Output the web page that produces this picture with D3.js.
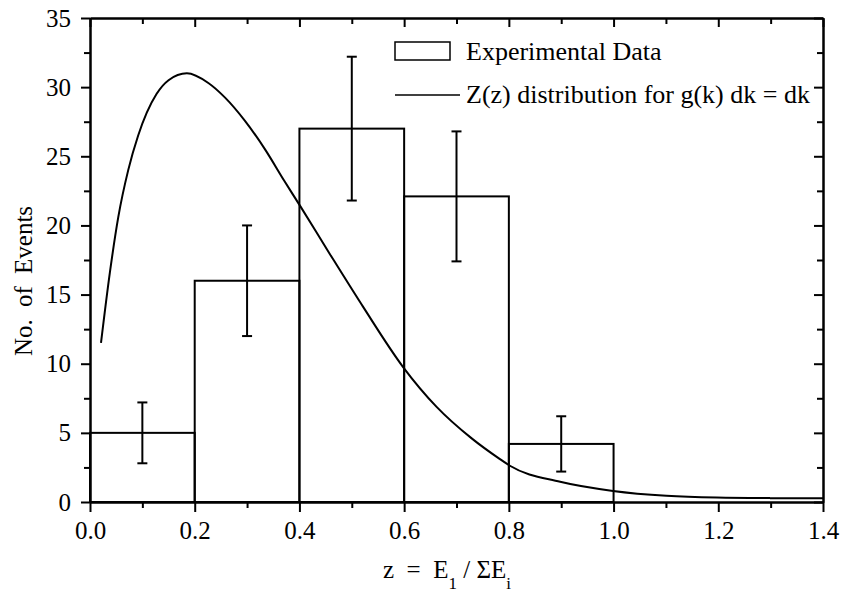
<!DOCTYPE html>
<html><head><meta charset="utf-8">
<script src="https://cdn.jsdelivr.net/npm/d3@7"></script>
<style>
body{margin:0;background:#fff}
svg{display:block}
text{font-family:"Liberation Serif","Times New Roman",serif;fill:#000}
</style>
</head><body>
<svg id="c" width="845" height="597"></svg>
<script>
// ---- data ----
const binStarts = [0, 0.2, 0.4, 0.6, 0.8];
const binWidth = 0.2;
const counts = [5, 16, 27, 22.1, 4.2];
const errLow = [2.8, 12, 21.8, 17.4, 2.2];
const errHigh = [7.2, 20, 32.2, 26.8, 6.2];
const curveZ = [0.021,0.038,0.054,0.073,0.092,0.127,0.150,0.185,0.226,0.258,0.296,0.334,0.371,0.401,0.458,0.522,0.598,0.662,0.729,0.783,0.802,0.898,0.999,1.101,1.197,1.3,1.4];
const curveN = [11.5,16.6,20.6,24.0,26.5,29.5,30.5,31.0,30.3,29.24,27.56,25.52,23.23,21.43,17.94,14.09,9.76,6.88,4.6,3.1,2.62,1.46,0.8,0.45,0.32,0.28,0.27];
const xMajor = [0,0.2,0.4,0.6,0.8,1.0,1.2,1.4];
const xMinor = [0.1,0.3,0.5,0.7,0.9,1.1,1.3];
const yMajor = [0,5,10,15,20,25,30,35];
const yMinor = [2.5,7.5,12.5,17.5,22.5,27.5,32.5];
const legendLabels = ["Experimental Data", "Z(z) distribution for g(k) dk = dk"];

// ---- layout ----
const L = 90, R = 823, T = 18, B = 502;
const x = d3.scaleLinear().domain([0, 1.4]).range([L, R]);
const y = d3.scaleLinear().domain([0, 35]).range([B, T]);
const svg = d3.select("#c");
const SW = 2;

// bars
svg.append("g").selectAll("rect").data(binStarts).join("rect")
  .attr("x", d => x(d)).attr("width", d => x(d + binWidth) - x(d))
  .attr("y", (d,i) => y(counts[i])).attr("height", (d,i) => y(0) - y(counts[i]))
  .attr("fill", "none").attr("stroke", "#000").attr("stroke-width", SW);

// error bars
const eg = svg.append("g").attr("stroke", "#000").attr("stroke-width", SW);
binStarts.forEach((d, i) => {
  const cx = x(d + binWidth / 2);
  eg.append("line").attr("x1", cx).attr("x2", cx).attr("y1", y(errLow[i])).attr("y2", y(errHigh[i]));
  eg.append("line").attr("x1", cx - 5).attr("x2", cx + 5).attr("y1", y(errLow[i])).attr("y2", y(errLow[i]));
  eg.append("line").attr("x1", cx - 5).attr("x2", cx + 5).attr("y1", y(errHigh[i])).attr("y2", y(errHigh[i]));
});

// curve
const pts = curveZ.map((z, i) => [z, curveN[i]]);
svg.append("path").datum(pts)
  .attr("d", d3.line().x(d => x(d[0])).y(d => y(d[1])).curve(d3.curveMonotoneX))
  .attr("fill", "none").attr("stroke", "#000").attr("stroke-width", SW);

// axes
function styleAxis(g) {
  g.selectAll("path,line").attr("stroke", "#000").attr("stroke-width", SW);
  g.selectAll("text").style("font-size", "25px").attr("font-family", null);
}
svg.append("g").attr("transform", `translate(0,${B})`)
  .call(d3.axisBottom(x).tickValues(xMajor).tickSize(10).tickSizeOuter(0).tickPadding(9).tickFormat(d3.format(".1f")))
  .call(styleAxis);
svg.append("g").attr("transform", `translate(0,${B})`)
  .call(d3.axisBottom(x).tickValues(xMinor).tickSize(6).tickSizeOuter(0).tickFormat(""))
  .call(styleAxis);
svg.append("g").attr("transform", `translate(${L},0)`)
  .call(d3.axisLeft(y).tickValues(yMajor).tickSize(9).tickSizeOuter(0).tickPadding(10))
  .call(styleAxis);
svg.append("g").attr("transform", `translate(${L},0)`)
  .call(d3.axisLeft(y).tickValues(yMinor).tickSize(6).tickSizeOuter(0).tickFormat(""))
  .call(styleAxis);
// mirrored inward ticks
svg.append("g").attr("transform", `translate(0,${T})`)
  .call(d3.axisBottom(x).tickValues(xMajor).tickSize(9).tickSizeOuter(0).tickFormat(""))
  .call(styleAxis);
svg.append("g").attr("transform", `translate(0,${T})`)
  .call(d3.axisBottom(x).tickValues(xMinor).tickSize(6).tickSizeOuter(0).tickFormat(""))
  .call(styleAxis);
svg.append("g").attr("transform", `translate(${R},0)`)
  .call(d3.axisLeft(y).tickValues(yMajor).tickSize(9).tickSizeOuter(0).tickFormat(""))
  .call(styleAxis);
svg.append("g").attr("transform", `translate(${R},0)`)
  .call(d3.axisLeft(y).tickValues(yMinor).tickSize(6).tickSizeOuter(0).tickFormat(""))
  .call(styleAxis);

// axis titles
svg.append("text").attr("transform", "translate(32,281) rotate(-90)")
  .attr("text-anchor", "middle").style("font-size", "25px").style("word-spacing", "6px")
  .text("No. of Events");

const xt = svg.append("text").attr("x", 447).attr("y", 578).attr("text-anchor", "middle")
  .style("font-size", "25px").style("white-space", "pre");
xt.append("tspan").text("z  =  E");
xt.append("tspan").attr("dy", 11).style("font-size", "17px").text("1");
xt.append("tspan").attr("dy", -11).text(" / ΣE");
xt.append("tspan").attr("dy", 11).style("font-size", "17px").text("i");

// legend
svg.append("rect").attr("x", 395).attr("y", 42).attr("width", 55).attr("height", 18)
  .attr("fill", "none").attr("stroke", "#000").attr("stroke-width", 1.5);
svg.append("text").attr("x", 466).attr("y", 60).style("font-size", "26px").text(legendLabels[0]);
svg.append("line").attr("x1", 395).attr("x2", 460).attr("y1", 95).attr("y2", 95)
  .attr("stroke", "#000").attr("stroke-width", 1.5);
svg.append("text").attr("x", 466).attr("y", 103).style("font-size", "26px").text(legendLabels[1]);
</script>
</body></html>
